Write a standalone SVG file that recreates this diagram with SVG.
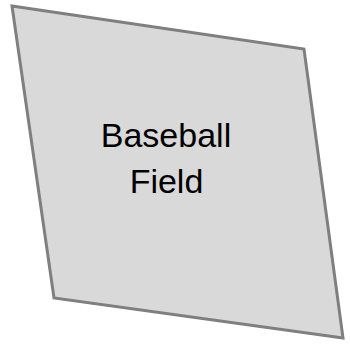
<svg xmlns="http://www.w3.org/2000/svg" width="350" height="344" viewBox="0 0 350 344">
<style>
.field{fill:#d9d9d9;stroke:#7f7f7f;stroke-width:3;stroke-linejoin:miter}
.lbl{font-family:"Liberation Sans",Arial,sans-serif;font-size:34px;fill:#000;text-anchor:middle}
</style>
<g id="baseball-field">
<polygon class="field" points="12,6 304,49 343,338 54,298"/>
<text class="lbl" x="166" y="147">Baseball</text>
<text class="lbl" x="166.5" y="193">Field</text>
</g>
</svg>
